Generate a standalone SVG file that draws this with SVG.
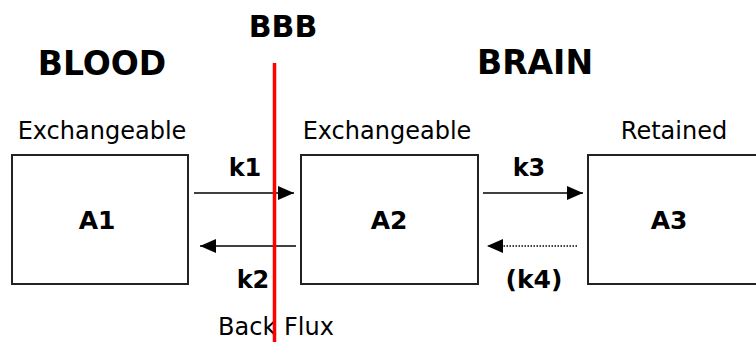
<svg xmlns="http://www.w3.org/2000/svg" width="756" height="342" viewBox="0 0 756 342">
<style>
text{font-family:"DejaVu Sans","Liberation Sans",sans-serif;fill:#000}
.h{font-weight:bold;font-size:33px}
.t{font-size:24px}
.k{font-weight:bold;font-size:24px}
.a{font-weight:bold;font-size:25px}
.box{fill:#fff;stroke:#222;stroke-width:2}
.arr{stroke:#000;stroke-width:1.6;fill:none}
</style>
<defs>
<marker id="ah" markerUnits="userSpaceOnUse" markerWidth="16" markerHeight="14" refX="16" refY="7" orient="auto">
<path d="M0,0 L16,7 L0,14 Z" fill="#000"/>
</marker>
</defs>
<rect width="756" height="342" fill="#fff"/>
<text class="h" x="283" y="37" text-anchor="middle" style="font-size:30px">BBB</text>
<text class="h" x="102" y="75" text-anchor="middle">BLOOD</text>
<text class="h" x="535" y="74" text-anchor="middle">BRAIN</text>
<g id="A1">
<text class="t" x="102" y="139" text-anchor="middle">Exchangeable</text>
<rect class="box" x="12" y="155" width="176" height="129"/>
<text class="a" x="97" y="229" text-anchor="middle">A1</text>
</g>
<g id="A2">
<text class="t" x="387" y="139" text-anchor="middle">Exchangeable</text>
<rect class="box" x="301" y="155" width="177" height="129"/>
<text class="a" x="389" y="229" text-anchor="middle">A2</text>
</g>
<g id="A3">
<text class="t" x="674" y="139" text-anchor="middle">Retained</text>
<rect class="box" x="588" y="155" width="180" height="129"/>
<text class="a" x="669" y="229" text-anchor="middle">A3</text>
</g>
<g id="connectors">
<line class="arr" x1="194" y1="193" x2="294" y2="193" marker-end="url(#ah)"/>
<line class="arr" x1="296" y1="246" x2="200" y2="246" marker-end="url(#ah)"/>
<line class="arr" x1="483" y1="193" x2="583" y2="193" marker-end="url(#ah)"/>
<line class="arr" x1="577" y1="246" x2="487" y2="246" marker-end="url(#ah)" stroke-dasharray="1.5,1.5"/>
</g>
<text class="k" x="245" y="176" text-anchor="middle">k1</text>
<text class="k" x="253" y="288" text-anchor="middle">k2</text>
<text class="k" x="529" y="176" text-anchor="middle">k3</text>
<text class="k" x="534" y="288" text-anchor="middle" style="font-size:25px">(k4)</text>
<text class="t" x="276" y="335" text-anchor="middle">Back Flux</text>
<g id="BBB">
<line x1="274.5" y1="63" x2="274.5" y2="342" stroke="#f00" stroke-width="3.5"/>
</g>
</svg>
